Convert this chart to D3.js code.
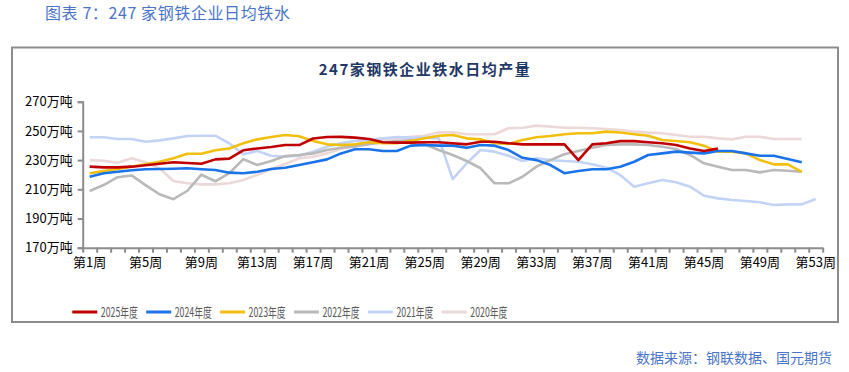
<!DOCTYPE html>
<html>
<head>
<meta charset="utf-8">
<script src="https://cdn.jsdelivr.net/npm/d3@7"></script>
<style>
  body { margin: 0; background: #fff; }
  svg text { font-family: "Noto Sans CJK SC", "Noto Sans", sans-serif; }
</style>
</head>
<body>
<svg id="chart" width="849" height="372"></svg>
<script>
// series data, 万吨 per day, one value per week (null = no data yet)
var weeks = d3.range(1, 54);
var yTicks = [170, 190, 210, 230, 250, 270];
var labelWeeks = [1, 5, 9, 13, 17, 21, 25, 29, 33, 37, 41, 45, 49, 53];

var y2025 = [225.5, 225, 225, 225.5, 226.5, 227.5, 228.5, 228, 227.5, 230.5,
             231, 236.7, 238, 239, 240.3, 240.3, 244.8, 245.8, 245.9, 245.4,
             244.5, 242.2, 242, 242, 242.2, 242.2, 241.5, 240.8, 242.6, 242.6,
             241.5, 240.8, 240.8, 240.8, 240.8, 230, 240.8, 241.5, 243, 243,
             242.2, 241.5, 240.3, 238, 236.2, 238];
var y2024 = [218.6, 221, 222, 223, 223.7, 223.9, 224.1, 224.4, 223.7, 223.2,
             221.4, 221, 222, 223.9, 224.8, 226.6, 228.5, 230.5, 234.6, 237.4,
             237.4, 236.2, 236.2, 239.9, 240.3, 239.9, 239.9, 238.5, 240.3, 239.9,
             236.9, 231.6, 230, 226.6, 221, 222.5, 223.7, 223.7, 225.5, 228.9,
             233.5, 234.6, 235.8, 235.1, 234.6, 236.2, 236.2, 234.6, 233, 233,
             230.7, 228.5];
var y2023 = [221, 222.5, 223.9, 225.5, 227.1, 228.9, 231.2, 234.4, 234.4, 236.7,
             238, 241.5, 244.2, 245.8, 247.2, 246.3, 243.1, 240.8, 240.3, 240.8,
             242.2, 241.5, 241.5, 243.1, 244.9, 246.7, 247.2, 244.9, 244.2, 241.5,
             241, 243.8, 245.6, 246.5, 247.7, 248.4, 248.4, 249.5, 248.9, 247.7,
             246.7, 243.8, 243.1, 242.2, 239.9, 235.8, 235.8, 234.6, 230, 227.1,
             227.1, 222];
var y2022 = [208.8, 212.9, 218.3, 219.5, 212.9, 206.6, 203.2, 209, 220, 215.5,
             221, 230.7, 226.6, 229.4, 232.8, 233.5, 234.6, 236.9, 238.5, 239.4,
             240.8, 242.2, 243.1, 243.8, 240.8, 236.9, 233.5, 229.4, 224.4, 214.1,
             214.1, 218.6, 225.5, 230, 234, 236.2, 238.5, 240.3, 240.8, 240.8,
             240.3, 239.2, 237.6, 233.5, 227.8, 225.5, 223.2, 223.2, 221.6, 223.2,
             222.7, 222];
var y2021 = [245.6, 245.6, 244.5, 244.5, 242.6, 243.5, 244.9, 246.5, 246.7, 246.7,
             241.5, 234, 236.2, 233, 232.3, 233, 235.8, 239.2, 241.5, 243.1,
             243.8, 244.9, 245.8, 245.4, 245.4, 244.9, 217, 227.8, 236.9, 235.8,
             233, 229.4, 231.2, 230, 229.4, 228.9, 227.1, 224.8, 219.8, 211.8,
             214.1, 216.4, 214.8, 211.8, 205.6, 203.8, 202.7, 202, 201.1, 199.2,
             199.7, 199.7, 203.4];
var y2020 = [230, 229.6, 228.2, 231.2, 228.5, 224.4, 215.7, 214.1, 213.4, 213.4,
             214.1, 216.4, 219.8, 223.9, 227.3, 231.2, 232.3, 234.6, 237.6, 239.9,
             242.2, 244.2, 244.9, 246, 246.7, 249, 249, 247.7, 247.7, 247.7,
             251.8, 252.2, 253.6, 252.9, 252.2, 252.2, 251.8, 251.3, 250.6, 249.5,
             248.8, 248.4, 247.2, 246, 246, 244.9, 244.2, 246, 246, 244.5,
             244.5, 244.5];

var seriesNames = ["2025年度", "2024年度", "2023年度", "2022年度", "2021年度", "2020年度"];
var seriesValues = [y2025, y2024, y2023, y2022, y2021, y2020];
var seriesColors = ["#c00000", "#1a73e8", "#f2bf0f", "#b9b9b9", "#c3d3f5", "#ecd8d8"];

var svg = d3.select("#chart");

// page captions
//- - - - - - - - - - - - - - - - - - - - - -
svg.append("text")
    .attr("x", 45).attr("y", 19)
    .attr("font-size", 16).attr("fill", "#4a74c9")
    .attr("letter-spacing", 0.6)
    .text("图表 7：247 家钢铁企业日均铁水");

svg.append("text")
    .attr("x", 832).attr("y", 363)
    .attr("text-anchor", "end")
    .attr("font-size", 14).attr("fill", "#4a74c9")
    .text("数据来源：钢联数据、国元期货");

// chart frame
svg.append("rect")
    .attr("x", 12).attr("y", 47.5)
    .attr("width", 826).attr("height", 274.5)
    .attr("fill", "none").attr("stroke", "#8c8c8c").attr("stroke-width", 2);

svg.append("text")
    .attr("x", 425).attr("y", 75)
    .attr("text-anchor", "middle")
    .attr("font-size", 15).attr("font-weight", "bold")
    .attr("letter-spacing", 1.5)
    .attr("fill", "#1f3864")
    .text("247家钢铁企业铁水日均产量");

// scales
//- - - - - - - - - - - - - - - - - - - - - -
var plotLeft = 82.7, plotRight = 822.7, plotTop = 101.7, plotBottom = 247.7;

var x = d3.scaleBand().domain(weeks).range([plotLeft, plotRight]);
var xEdge = d3.scaleLinear().domain([0, weeks.length]).range([plotLeft, plotRight]);
var y = d3.scaleLinear().domain([170, 270]).range([plotBottom, plotTop]);

// axes
//- - - - - - - - - - - - - - - - - - - - - -
var styleAxis = function (g) {
    g.select(".domain").attr("stroke", "#8c8c8c").attr("stroke-width", 2);
    g.selectAll(".tick line").attr("stroke", "#8c8c8c").attr("stroke-width", 2);
    g.selectAll(".tick text").attr("fill", "#000").attr("font-size", 13)
        .style("font-family", '"Noto Sans CJK SC", sans-serif');
};

svg.append("g")
    .attr("transform", "translate(" + plotLeft + ",0)")
    .call(d3.axisLeft(y).tickValues(yTicks).tickSize(5).tickPadding(5)
        .tickFormat(function (d) { return d + "万吨"; }))
    .call(styleAxis);

svg.append("g")
    .attr("transform", "translate(0," + plotBottom + ")")
    .call(d3.axisBottom(xEdge).tickValues(d3.range(weeks.length + 1))
        .tickSize(5).tickSizeOuter(0).tickFormat(""))
    .call(styleAxis);

svg.append("g")
    .attr("transform", "translate(0," + plotBottom + ")")
    .call(d3.axisBottom(x).tickValues(labelWeeks).tickSize(0).tickPadding(10)
        .tickFormat(function (d) { return "第" + d + "周"; }))
    .call(styleAxis)
    .select(".domain").remove();

// lines, oldest year drawn first so 2025 sits on top
//- - - - - - - - - - - - - - - - - - - - - -
var line = d3.line()
    .defined(function (d) { return d != null; })
    .x(function (d, i) { return x(weeks[i]) + x.bandwidth() / 2; })
    .y(function (d) { return y(d); });

for (var s = seriesValues.length - 1; s >= 0; s--) {
    svg.append("path")
        .datum(seriesValues[s])
        .attr("fill", "none")
        .attr("stroke", seriesColors[s])
        .attr("stroke-width", 2.6)
        .attr("stroke-linejoin", "round")
        .attr("d", line);
}

// legend
//- - - - - - - - - - - - - - - - - - - - - -
var legend = svg.append("g").attr("transform", "translate(72.3,312)");

seriesNames.forEach(function (name, i) {
    var item = legend.append("g").attr("transform", "translate(" + (i * 73.9) + ",0)");
    item.append("line")
        .attr("x1", 0).attr("x2", 25)
        .attr("stroke", seriesColors[i]).attr("stroke-width", 3);
    item.append("text")
        .attr("x", 28.5).attr("dy", "0.36em")
        .attr("font-size", 13).attr("fill", "#595959")
        .attr("textLength", 37).attr("lengthAdjust", "spacingAndGlyphs")
        .text(name);
});
</script>
</body>
</html>
